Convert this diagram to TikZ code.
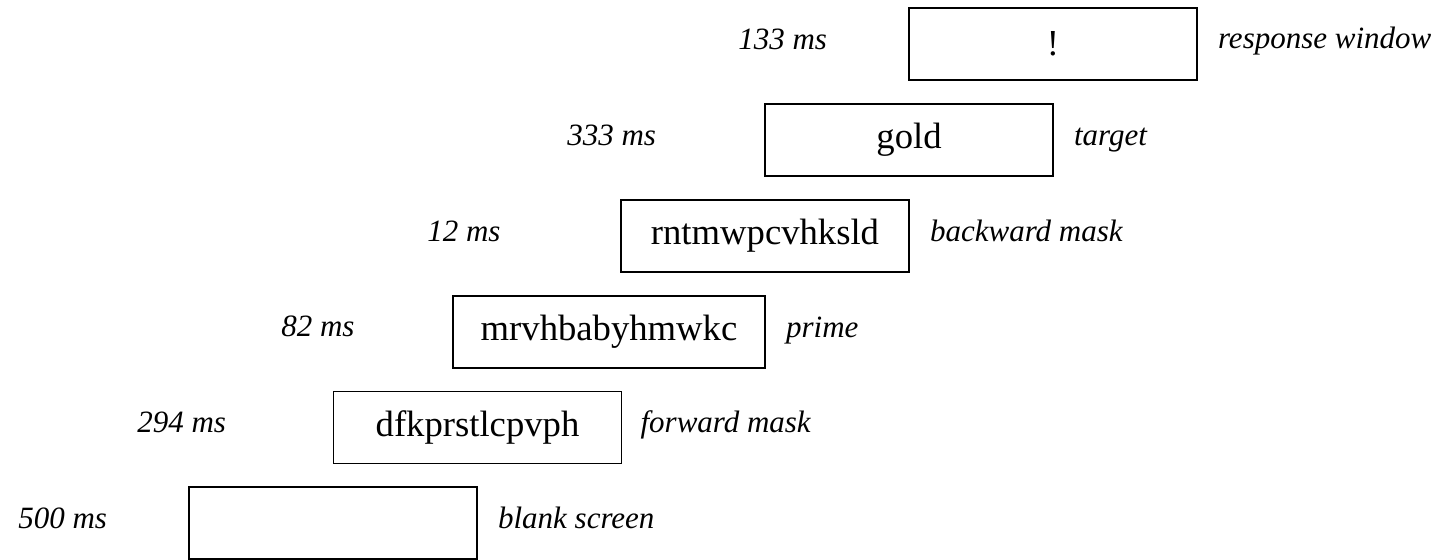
\documentclass[tikz,border=0pt]{standalone}
\usepackage{fontspec}
\setmainfont{Liberation Serif}
\usetikzlibrary{calc}
\begin{document}
\begin{tikzpicture}[x=0.75pt,y=-0.75pt,
  stim/.style={draw,line width=1.2pt,minimum width=216pt,minimum height=54pt,inner sep=0pt,font=\fontsize{27.5}{30}\selectfont},
  lab/.style={inner sep=0pt,anchor=base west,font=\fontsize{23.25}{26}\selectfont\itshape}]
\useasboundingbox (0,0) rectangle (1446,560);
% stimulus boxes
\node[stim] (blank) at (333,523) {};
\node[stim] (fwd) at (477.5,427.5) {dfkprstlcpvph};
\node[stim,minimum width=234pt] (prime) at (609,332) {mrvhbabyhmwkc};
\node[stim] (bwd) at (765,236) {rntmwpcvhksld};
\node[stim] (target) at (909,140) {gold};
\node[stim] (resp) at (1053,44) {!};
% durations
\node[lab] (d1) at (18,528) {500 ms};
\node[lab] (d2) at (137,432) {294 ms};
\node[lab] (d3) at (281,336.5) {82 ms};
\node[lab] (d4) at (427,241) {12 ms};
\node[lab] (d5) at (567,145) {333 ms};
\node[lab] (d6) at (738,50) {133 ms};
% names
\node[lab] (n1) at ($(blank.east)+(20,5)$) {blank screen};
\node[lab] (n2) at ($(fwd.east)+(18,5)$) {forward mask};
\node[lab] (n3) at ($(prime.east)+(20,5)$) {prime};
\node[lab] (n4) at ($(bwd.east)+(20,5)$) {backward mask};
\node[lab] (n5) at ($(target.east)+(20,5)$) {target};
\node[lab] (n6) at ($(resp.east)+(20,5)$) {response window};
\end{tikzpicture}
\end{document}
